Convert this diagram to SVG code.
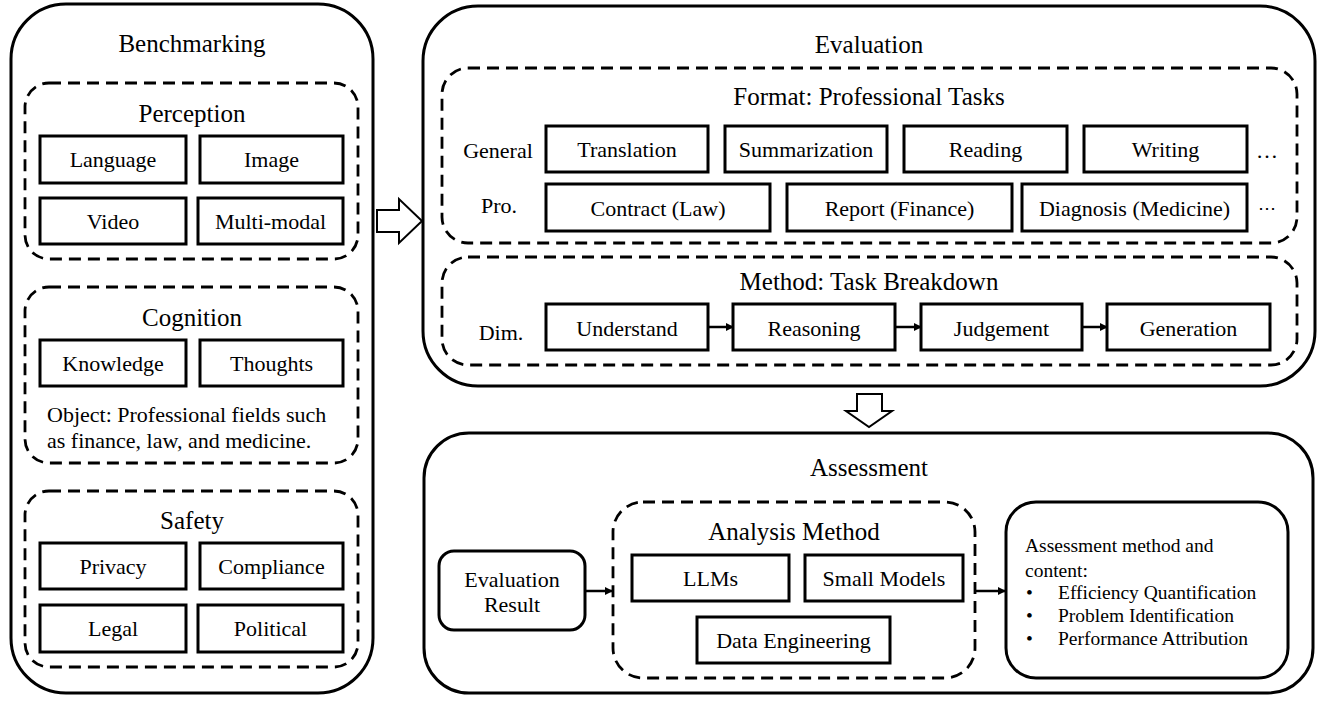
<svg xmlns="http://www.w3.org/2000/svg" width="1328" height="701" viewBox="0 0 1328 701">
<style>
text{font-family:"Liberation Serif","Times New Roman","DejaVu Serif",serif;fill:#000}
.t{font-size:25px;text-anchor:middle}
.n{font-size:22px;text-anchor:middle}
.l{font-size:22px}
.s{font-size:19.5px}
.outer{fill:#fff;stroke:#000;stroke-width:3}
.dash{fill:none;stroke:#000;stroke-width:2.8;stroke-dasharray:12 7}
.box{fill:#fff;stroke:#000;stroke-width:3}
.conn{fill:none;stroke:#000;stroke-width:2.5}
.hollow{fill:#fff;stroke:#000;stroke-width:2;stroke-linejoin:miter}
</style>
<defs>
<marker id="ah" markerWidth="8" markerHeight="8" refX="7" refY="4" orient="auto" markerUnits="userSpaceOnUse">
<path d="M0,0 L8,4 L0,8 Z" fill="#000"/>
</marker>
</defs>

<g id="benchmarking">
<rect class="outer" x="11" y="4" width="362" height="689" rx="55"/>
<text class="t" x="192" y="52">Benchmarking</text>
</g>

<g id="perception">
<rect class="dash" x="25" y="83" width="333" height="176" rx="24"/>
<text class="t" x="192" y="122">Perception</text>
<rect class="box" x="40" y="136" width="146" height="47"/>
<text class="n" x="113" y="167">Language</text>
<rect class="box" x="200" y="136" width="143" height="47"/>
<text class="n" x="271.5" y="167">Image</text>
<rect class="box" x="40" y="198" width="146" height="46"/>
<text class="n" x="113" y="229">Video</text>
<rect class="box" x="198" y="198" width="145" height="46"/>
<text class="n" x="270.5" y="229">Multi-modal</text>
</g>

<g id="cognition">
<rect class="dash" x="25" y="287" width="333" height="176" rx="24"/>
<text class="t" x="192" y="326">Cognition</text>
<rect class="box" x="40" y="340" width="146" height="46"/>
<text class="n" x="113" y="371">Knowledge</text>
<rect class="box" x="200" y="340" width="143" height="46"/>
<text class="n" x="271.5" y="371">Thoughts</text>
<text class="l" x="47" y="422">Object: Professional fields such</text>
<text class="l" x="47" y="448">as finance, law, and medicine.</text>
</g>

<g id="safety">
<rect class="dash" x="25" y="491" width="333" height="176" rx="24"/>
<text class="t" x="192" y="529">Safety</text>
<rect class="box" x="40" y="543" width="146" height="46"/>
<text class="n" x="113" y="574">Privacy</text>
<rect class="box" x="200" y="543" width="143" height="46"/>
<text class="n" x="271.5" y="574">Compliance</text>
<rect class="box" x="40" y="605" width="146" height="47"/>
<text class="n" x="113" y="636">Legal</text>
<rect class="box" x="198" y="605" width="145" height="47"/>
<text class="n" x="270.5" y="636">Political</text>
</g>

<g id="evaluation">
<rect class="outer" x="423" y="6" width="892" height="380" rx="55"/>
<text class="t" x="869" y="53">Evaluation</text>
</g>

<g id="format">
<rect class="dash" x="442" y="68" width="855" height="175" rx="26"/>
<text class="t" x="869" y="105">Format: Professional Tasks</text>
<text class="n" x="498" y="158">General</text>
<text class="n" x="499" y="213">Pro.</text>
<rect class="box" x="546" y="126" width="162" height="46"/>
<text class="n" x="627" y="157">Translation</text>
<rect class="box" x="725" y="126" width="162" height="46"/>
<text class="n" x="806" y="157">Summarization</text>
<rect class="box" x="904" y="126" width="163" height="46"/>
<text class="n" x="985.5" y="157">Reading</text>
<rect class="box" x="1084" y="126" width="163" height="46"/>
<text class="n" x="1165.5" y="157">Writing</text>
<text class="n" x="1267" y="158">…</text>
<rect class="box" x="546" y="184" width="224" height="47"/>
<text class="n" x="658" y="216">Contract (Law)</text>
<rect class="box" x="787" y="184" width="225" height="47"/>
<text class="n" x="899.5" y="216">Report (Finance)</text>
<rect class="box" x="1022" y="184" width="225" height="47"/>
<text class="n" x="1134.5" y="216">Diagnosis (Medicine)</text>
<text class="n" x="1267" y="214" style="font-family:'DejaVu Serif',serif;font-size:18px">⋯</text>
</g>

<g id="method">
<rect class="dash" x="442" y="257" width="855" height="108" rx="26"/>
<text class="t" x="869" y="290">Method: Task Breakdown</text>
<text class="n" x="501" y="340">Dim.</text>
<rect class="box" x="546" y="304" width="162" height="46"/>
<text class="n" x="627" y="336">Understand</text>
<rect class="box" x="733" y="304" width="162" height="46"/>
<text class="n" x="814" y="336">Reasoning</text>
<rect class="box" x="921" y="304" width="161" height="46"/>
<text class="n" x="1001.5" y="336">Judgement</text>
<rect class="box" x="1107" y="304" width="163" height="46"/>
<text class="n" x="1188.5" y="336">Generation</text>
</g>

<g id="assessment">
<rect class="outer" x="424" y="433" width="889" height="260" rx="45"/>
<text class="t" x="869" y="476">Assessment</text>
</g>

<g id="evaluation-result">
<rect class="box" x="439" y="551" width="146" height="79" rx="15"/>
<text class="n" x="512" y="587">Evaluation</text>
<text class="n" x="512" y="612">Result</text>
</g>

<g id="analysis-method">
<rect class="dash" x="613" y="502" width="362" height="176" rx="30"/>
<text class="t" x="794" y="540">Analysis Method</text>
<rect class="box" x="632" y="555" width="157" height="46"/>
<text class="n" x="710.5" y="586">LLMs</text>
<rect class="box" x="805" y="555" width="158" height="46"/>
<text class="n" x="884" y="586">Small Models</text>
<rect class="box" x="697" y="617" width="193" height="46"/>
<text class="n" x="793.5" y="648">Data Engineering</text>
</g>

<g id="assessment-content">
<rect class="box" x="1006" y="502" width="282" height="176" rx="30"/>
<text class="s" x="1025" y="552">Assessment method and</text>
<text class="s" x="1025" y="577">content:</text>
<text class="s" x="1026" y="599">•</text>
<text class="s" x="1058" y="599">Efficiency Quantification</text>
<text class="s" x="1026" y="622">•</text>
<text class="s" x="1058" y="622">Problem Identification</text>
<text class="s" x="1026" y="645">•</text>
<text class="s" x="1058" y="645">Performance Attribution</text>
</g>

<g id="connectors">
<polygon class="hollow" points="377,210 399,210 399,199 422,221 399,243 399,232 377,232"/>
<polygon class="hollow" points="857,394 882,394 882,411 892,411 869,427 846,411 857,411"/>
<line class="conn" x1="708" y1="327" x2="733" y2="327" marker-end="url(#ah)"/>
<line class="conn" x1="895" y1="327" x2="921" y2="327" marker-end="url(#ah)"/>
<line class="conn" x1="1082" y1="327" x2="1107" y2="327" marker-end="url(#ah)"/>
<line class="conn" x1="585" y1="591" x2="612" y2="591" marker-end="url(#ah)"/>
<line class="conn" x1="975" y1="591" x2="1005" y2="591" marker-end="url(#ah)"/>
</g>
</svg>
